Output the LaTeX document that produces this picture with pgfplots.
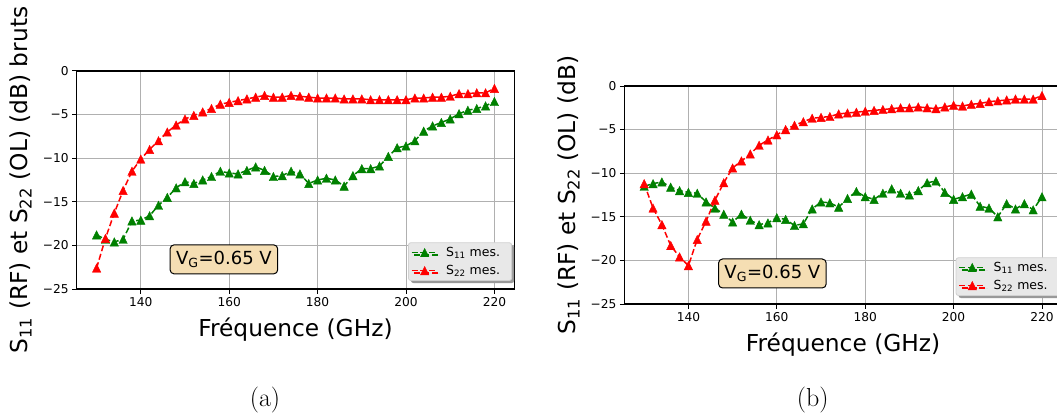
\documentclass[border=0pt]{standalone}
\usepackage{pgfplots}
\pgfplotsset{compat=1.18}
\usepackage{pgfplotstable}
\usepackage{fontspec}
\usetikzlibrary{shadows}
\newfontfamily\djv{DejaVu Sans}
\definecolor{mplgreen}{HTML}{008000}
\definecolor{mplred}{HTML}{FF0000}
\definecolor{wheat}{HTML}{F5DEB3}
\definecolor{gridgray}{HTML}{B0B0B0}

\pgfdeclareplotmark{mtri}{%
  \pgfpathmoveto{\pgfqpoint{0pt}{\pgfplotmarksize}}%
  \pgfpathlineto{\pgfqpoint{-\pgfplotmarksize}{-\pgfplotmarksize}}%
  \pgfpathlineto{\pgfqpoint{\pgfplotmarksize}{-\pgfplotmarksize}}%
  \pgfpathclose
  \pgfusepathqfillstroke}

\pgfplotstableread{
f s11 s22
130 -18.8 -22.6
132 -19.3 -19.2
134 -19.6 -16.3
136 -19.3 -13.7
138 -17.2 -11.5
140 -17.1 -10.1
142 -16.6 -9.0
144 -15.4 -8.0
146 -14.5 -7.0
148 -13.4 -6.2
150 -12.7 -5.5
152 -12.9 -5.1
154 -12.5 -4.7
156 -12.1 -4.3
158 -11.5 -3.8
160 -11.7 -3.6
162 -11.8 -3.4
164 -11.4 -3.2
166 -11.0 -3.0
168 -11.4 -2.8
170 -12.1 -3.0
172 -12.0 -3.0
174 -11.5 -2.8
176 -11.8 -2.9
178 -12.9 -3.0
180 -12.5 -3.1
182 -12.3 -3.1
184 -12.5 -3.1
186 -13.2 -3.2
188 -12.0 -3.2
190 -11.2 -3.2
192 -11.2 -3.3
194 -10.9 -3.3
196 -9.8 -3.3
198 -8.8 -3.3
200 -8.6 -3.3
202 -8.0 -3.1
204 -6.9 -3.1
206 -6.3 -3.0
208 -5.9 -3.0
210 -5.5 -2.9
212 -4.9 -2.6
214 -4.5 -2.6
216 -4.3 -2.5
218 -4.0 -2.5
220 -3.5 -2.0
}\dataA

\pgfplotstableread{
f s11 s22
130 -11.5 -11.2
132 -11.2 -14.0
134 -11.0 -15.9
136 -11.6 -18.3
138 -12.0 -19.6
140 -12.2 -20.6
142 -12.3 -17.6
144 -13.3 -15.5
146 -14.0 -13.1
148 -14.7 -11.1
150 -15.6 -9.4
152 -14.7 -8.6
154 -15.4 -7.8
156 -15.9 -6.8
158 -15.7 -6.2
160 -15.1 -5.6
162 -15.3 -5.0
164 -16.0 -4.5
166 -15.8 -4.1
168 -14.1 -3.7
170 -13.3 -3.6
172 -13.4 -3.5
174 -13.9 -3.2
176 -12.9 -3.1
178 -12.1 -3.0
180 -12.7 -2.9
182 -13.0 -2.8
184 -12.3 -2.7
186 -11.8 -2.6
188 -12.3 -2.5
190 -12.5 -2.5
192 -12.0 -2.4
194 -11.1 -2.5
196 -10.9 -2.6
198 -12.2 -2.4
200 -13.0 -2.2
202 -12.7 -2.3
204 -12.4 -2.1
206 -13.8 -2.0
208 -14.0 -1.8
210 -15.0 -1.7
212 -13.5 -1.6
214 -14.1 -1.5
216 -13.5 -1.5
218 -14.2 -1.5
220 -12.7 -1.1
}\dataB

\tikzset{
  vgbox/.style={draw=black, line width=1pt, fill=wheat, rounded corners=4pt, minimum width=107.6pt, minimum height=29pt, inner sep=0pt, font=\djv\fontsize{18}{21}\selectfont},
}

\pgfplotsset{
  rfaxis/.style={
    scale only axis, width=437.6pt, height=218pt,
    xmin=125.5, xmax=224.5, ymin=-25, ymax=0,
    xtick={140,160,180,200,220}, xticklabels={140,160,180,200,220},
    ytick={-25,-20,-15,-10,-5,0}, yticklabels={−25,−20,−15,−10,−5,0},
    tick align=outside, tick pos=left, major tick length=4.5pt,
    tick style={black, line width=1pt},
    grid=major, major grid style={gridgray, line width=1pt},
    axis line style={black, line width=1.1pt},
    tick label style={font=\djv\fontsize{12.2}{14}\selectfont},
    label style={font=\djv\fontsize{23.3}{28}\selectfont},
    xlabel={Fréquence (GHz)},
    xlabel style={at={(rel axis cs:0.5,0)}, anchor=base, yshift=-47.5pt},
    legend cell align=left,
    legend style={at={(rel axis cs:0.995,0.037)}, anchor=south east,
      fill=black!9, draw=black!18, line width=0.8pt, rounded corners=2.5pt,
      drop shadow={shadow xshift=2.5pt, shadow yshift=-2.5pt, fill=black!40, opacity=1},
      font=\djv\fontsize{12.5}{15}\selectfont,
      inner xsep=2.5pt, inner ysep=2.5pt, row sep=3.3pt, column sep=4.5pt,
      nodes={inner xsep=3.2pt, inner ysep=2pt}},
    legend image code/.code={\draw[mark repeat=2,mark phase=2] plot coordinates {(0pt,0pt) (13pt,0pt) (26pt,0pt)};},
  },
  s11/.style={mplgreen, dash pattern=on 6pt off 2.8pt, line width=1.5pt, mark=mtri, mark size=4.2pt, mark options={solid, line width=0.4pt, fill=mplgreen}},
  s22/.style={mplred, dash pattern=on 6pt off 2.8pt, line width=1.5pt, mark=mtri, mark size=4.2pt, mark options={solid, line width=0.4pt, fill=mplred}},
}

\begin{document}
\begin{tikzpicture}
\useasboundingbox (0pt,0pt) rectangle (1057pt,418pt);
\clip (0pt,0pt) rectangle (1057pt,418pt);

\begin{axis}[rfaxis, at={(76.7pt,129pt)}, anchor=south west,
  ylabel={S\textsubscript{11} (RF) et S\textsubscript{22} (OL) (dB) bruts},
  ylabel style={at={([xshift=-55.7pt]rel axis cs:0,0.5)}, anchor=center}]
\addplot[s11] table[x=f, y=s11] {\dataA};
\addlegendentry{S\textsubscript{11} mes.\hspace*{6pt}}
\addplot[s22] table[x=f, y=s22] {\dataA};
\addlegendentry{S\textsubscript{22} mes.\hspace*{6pt}}
\node[vgbox] at (axis cs:158.8,-21.6) {V\textsubscript{G}=0.65 V};
\end{axis}

\begin{axis}[rfaxis, at={(624.3pt,114pt)}, anchor=south west,
  ylabel={S\textsubscript{11} (RF) et S\textsubscript{22} (OL) (dB)},
  ylabel style={at={([xshift=-55.3pt]rel axis cs:0,0.5)}, anchor=center}]
\addplot[s11] table[x=f, y=s11] {\dataB};
\addlegendentry{S\textsubscript{11} mes.\hspace*{6pt}}
\addplot[s22] table[x=f, y=s22] {\dataB};
\addlegendentry{S\textsubscript{22} mes.\hspace*{6pt}}
\node[vgbox] at (axis cs:159,-21.5) {V\textsubscript{G}=0.65 V};
\end{axis}

\node[font=\fontsize{26}{30}\selectfont, anchor=base] at (265pt,11.5pt) {(a)};
\node[font=\fontsize{26}{30}\selectfont, anchor=base] at (812.7pt,11.5pt) {(b)};
\end{tikzpicture}
\end{document}
